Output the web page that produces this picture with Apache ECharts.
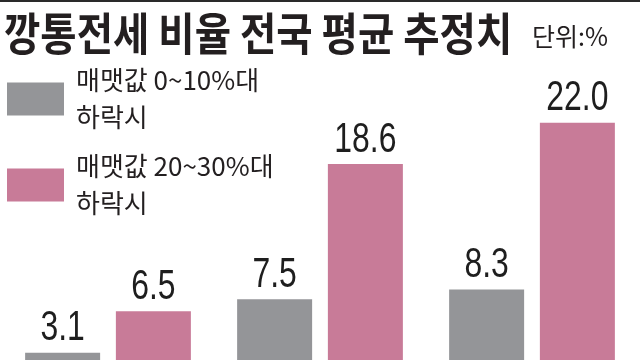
<!DOCTYPE html>
<html><head><meta charset="utf-8">
<script src="https://cdn.jsdelivr.net/npm/echarts@6/dist/echarts.min.js"></script>
<style>html,body{margin:0;padding:0;background:#fff;}#c{width:640px;height:360px;}</style>
</head><body><div id="c"></div>
<script>
const titleText = '깡통전세 비율 전국 평균 추정치';
const unitText = '단위:%';
const categories = ['그룹1', '그룹2', '그룹3'];
const seriesNames = ['매맷값 0~10%대\n하락시', '매맷값 20~30%대\n하락시'];
const grayValues = [3.1, 7.5, 8.3];
const pinkValues = [6.5, 18.6, 22.0];
const colors = ['#949598', '#c87b98'];

const chart = echarts.init(document.getElementById('c'), null, {renderer: 'canvas'});
const labelStyle = {
  show: true, position: 'top', distance: 3,
  fontFamily: '"Liberation Sans", Arial, sans-serif',
  fontSize: 42, color: '#1e1e1e',
  formatter: p => p.value.toFixed(1)
};
chart.setOption({
  animation: false,
  backgroundColor: '#fff',
  graphic: [
    {type: 'rect', shape: {x: 0, y: 0, width: 640, height: 2}, style: {fill: '#2a2a2a'}},
    {type: 'text', x: 4, y: 34, scaleY: 1.15,
     style: {text: titleText, font: 'bold 39.5px "Noto Sans CJK KR", sans-serif', fill: '#231f20', textVerticalAlign: 'middle'}},
    {type: 'text', x: 532, y: 36,
     style: {text: unitText, font: 'normal 25px "Noto Sans CJK KR", sans-serif', fill: '#231f20', textVerticalAlign: 'middle'}}
  ],
  legend: {
    orient: 'vertical', left: 7, top: 59, padding: 0,
    itemWidth: 57, itemHeight: 33, itemGap: 6,
    icon: 'rect',
    data: seriesNames,
    textStyle: {fontFamily: '"Noto Sans CJK KR", sans-serif', fontSize: 26, lineHeight: 37, color: '#231f20', padding: [6, 0, 0, 7]}
  },
  grid: {left: 2, width: 636, top: 86.2, bottom: 0, containLabel: false},
  xAxis: {type: 'category', data: categories, show: false},
  yAxis: {type: 'value', min: 2.5, max: 25, show: false},
  series: [
    {name: seriesNames[0], type: 'bar', data: grayValues, barWidth: 75, barGap: '21%', itemStyle: {color: colors[0]}, label: labelStyle},
    {name: seriesNames[1], type: 'bar', data: pinkValues, barWidth: 75, itemStyle: {color: colors[1]}, label: labelStyle}
  ]
});
// narrow the value labels horizontally (condensed look)
(function squeeze() {
  const zr = chart.getZr();
  zr.storage.getDisplayList(true).forEach(el => {
    if (el.getTextContent) {
      const t = el.getTextContent();
      if (t && t.style && /^\d+\.\d$/.test(t.style.text)) {
        t.scaleX = 0.76;
        t.markRedraw();
      }
    }
  });
  zr.refreshImmediately();
})();
</script></body></html>
